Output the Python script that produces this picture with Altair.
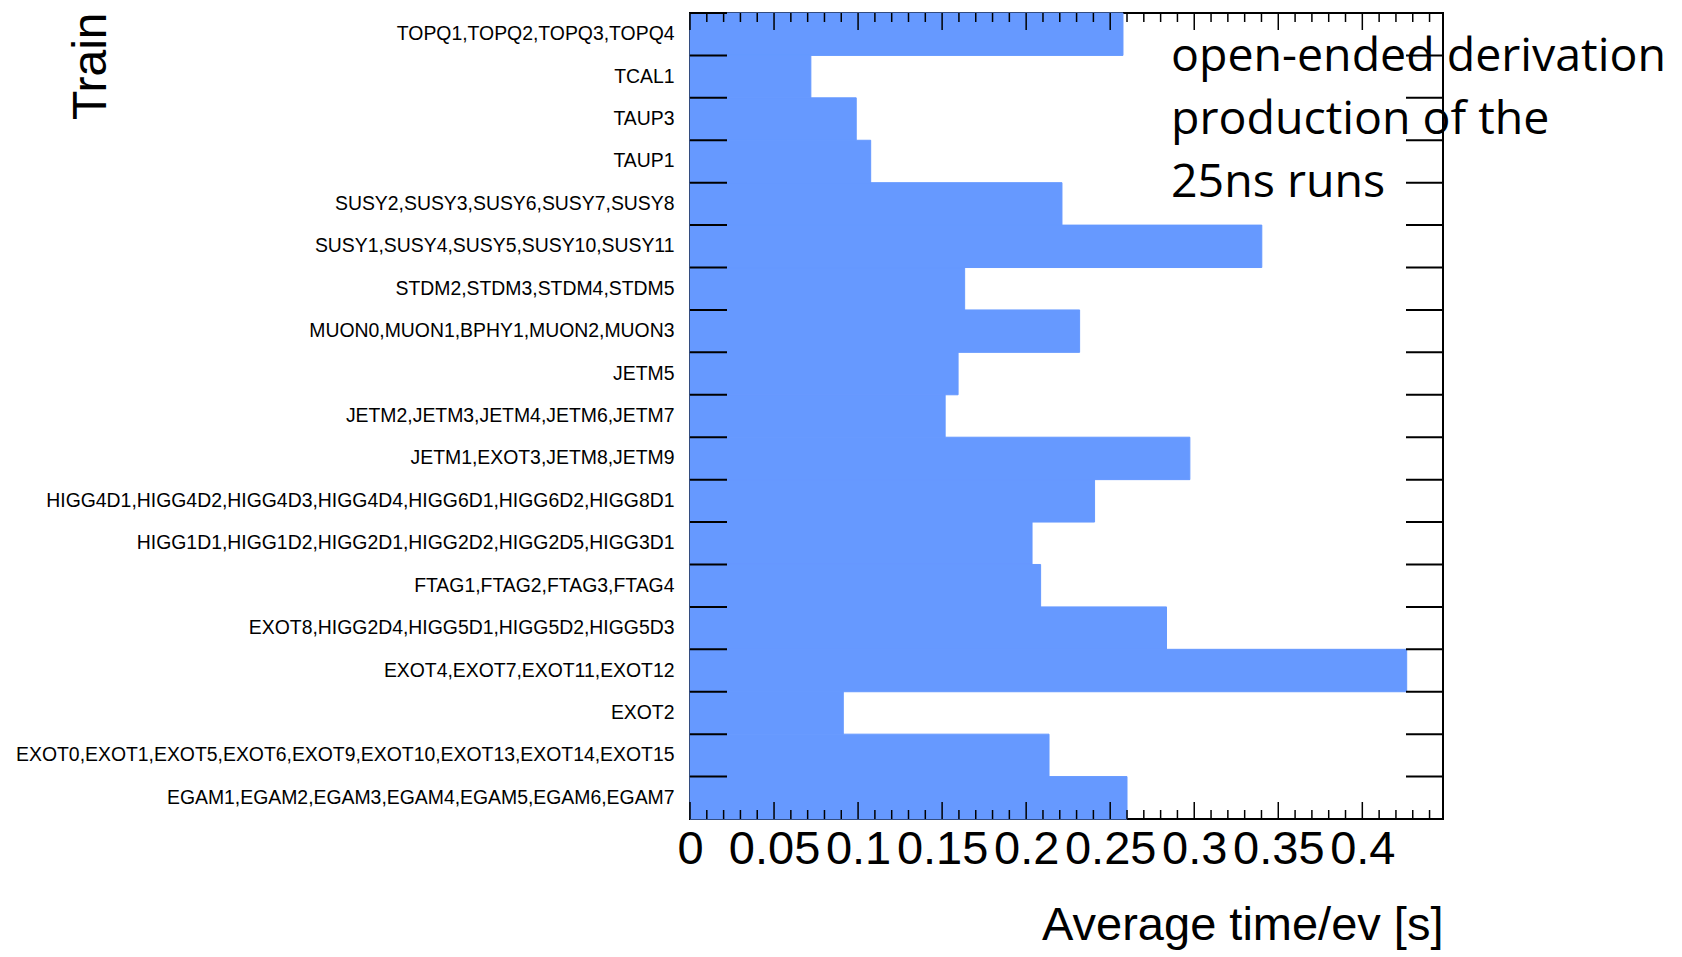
import altair as alt
import pandas as pd

# ---------------- data ----------------
trains = [
    "TOPQ1,TOPQ2,TOPQ3,TOPQ4",
    "TCAL1",
    "TAUP3",
    "TAUP1",
    "SUSY2,SUSY3,SUSY6,SUSY7,SUSY8",
    "SUSY1,SUSY4,SUSY5,SUSY10,SUSY11",
    "STDM2,STDM3,STDM4,STDM5",
    "MUON0,MUON1,BPHY1,MUON2,MUON3",
    "JETM5",
    "JETM2,JETM3,JETM4,JETM6,JETM7",
    "JETM1,EXOT3,JETM8,JETM9",
    "HIGG4D1,HIGG4D2,HIGG4D3,HIGG4D4,HIGG6D1,HIGG6D2,HIGG8D1",
    "HIGG1D1,HIGG1D2,HIGG2D1,HIGG2D2,HIGG2D5,HIGG3D1",
    "FTAG1,FTAG2,FTAG3,FTAG4",
    "EXOT8,HIGG2D4,HIGG5D1,HIGG5D2,HIGG5D3",
    "EXOT4,EXOT7,EXOT11,EXOT12",
    "EXOT2",
    "EXOT0,EXOT1,EXOT5,EXOT6,EXOT9,EXOT10,EXOT13,EXOT14,EXOT15",
    "EGAM1,EGAM2,EGAM3,EGAM4,EGAM5,EGAM6,EGAM7",
]
avg_time = [
    0.2576, 0.0719, 0.0989, 0.1075, 0.2213, 0.3402, 0.1634, 0.2318, 0.1595,
    0.1518, 0.2974, 0.2407, 0.2035, 0.2086, 0.2835, 0.4264, 0.0912, 0.2136,
    0.2600,
]
x_major_ticks = [0, 0.05, 0.1, 0.15, 0.2, 0.25, 0.3, 0.35, 0.4]
x_minor_ticks = [i / 100 for i in range(1, 45) if i % 5]
x_title = "Average time/ev [s]"
y_title = "Train"
note_text = "open-ended derivation\nproduction of the\n25ns runs"

# ---------------- layout ----------------
W, H = 753, 806
X_MAX = 0.448
BAR_COLOR = "#6699FF"
ROOT_FONT = "Liberation Sans"

df = pd.DataFrame({"train": trains, "value": avg_time})
ymaj = pd.DataFrame({"value": x_major_ticks})
ymin = pd.DataFrame({"value": x_minor_ticks})
ytk = pd.DataFrame({"train": trains})
note = pd.DataFrame({"note": [note_text]})

xscale = alt.Scale(domain=[0, X_MAX], nice=False, zero=True)
yscale = alt.Scale(paddingInner=0, paddingOuter=0)

bars = alt.Chart(df).mark_bar(color=BAR_COLOR, stroke=BAR_COLOR, strokeWidth=1).encode(
    x=alt.X(
        "value:Q",
        scale=xscale,
        axis=alt.Axis(
            values=x_major_ticks,
            format="~g",
            labelFont=ROOT_FONT,
            labelFontSize=47,
            labelColor="black",
            labelPadding=7,
            labelOverlap=False,
            labelFlush=False,
            ticks=False,
            domain=False,
            grid=False,
            title=x_title,
            titleFont=ROOT_FONT,
            titleFontSize=47,
            titleFontWeight="normal",
            titleColor="black",
            titleAnchor="end",
            titleAlign="right",
            titleBaseline="alphabetic",
            titleX=W,
            titleY=120,
        ),
    ),
    y=alt.Y(
        "train:N",
        sort=trains,
        scale=yscale,
        axis=alt.Axis(
            labelFont=ROOT_FONT,
            labelFontSize=19.4,
            labelColor="black",
            labelPadding=16,
            labelLimit=0,
            ticks=False,
            domain=False,
            grid=False,
            title=y_title,
            titleFont=ROOT_FONT,
            titleFontSize=48,
            titleFontWeight="normal",
            titleColor="black",
            titleAngle=270,
            titleAlign="right",
            titleBaseline="alphabetic",
            titleX=-585,
            titleY=-1,
        ),
    ),
)

text = alt.Chart(note).mark_text(
    align="left",
    baseline="alphabetic",
    font="Open Sans",
    fontSize=46.5,
    lineBreak="\n",
    lineHeight=63,
    color="black",
).encode(x=alt.value(481), y=alt.value(58), text="note:N")

ytick_left = alt.Chart(ytk).mark_rule(color="black", strokeWidth=2).encode(
    y=alt.Y("train:N", sort=trains, scale=yscale, bandPosition=0),
    x=alt.value(0),
    x2=alt.value(37),
)
ytick_right = alt.Chart(ytk).mark_rule(color="black", strokeWidth=2).encode(
    y=alt.Y("train:N", sort=trains, scale=yscale, bandPosition=0),
    x=alt.value(W - 37),
    x2=alt.value(W),
)

def xticks(data, length):
    bottom = alt.Chart(data).mark_rule(color="black", strokeWidth=1.5).encode(
        x=alt.X("value:Q", scale=xscale),
        y=alt.value(H - length),
        y2=alt.value(H),
    )
    top = alt.Chart(data).mark_rule(color="black", strokeWidth=1.5).encode(
        x=alt.X("value:Q", scale=xscale),
        y=alt.value(0),
        y2=alt.value(length),
    )
    return [bottom, top]

layers = [bars, text, ytick_left, ytick_right] + xticks(ymaj, 17) + xticks(ymin, 9)

chart = alt.layer(*layers).properties(
    width=W,
    height=H,
    autosize=alt.AutoSizeParams(type="none"),
    padding={"left": 682, "top": 5, "right": 230, "bottom": 131},
    background="white",
).configure_view(stroke="black", strokeWidth=2)

chart.save("out.html", embed_options={"renderer": "svg", "actions": False})
